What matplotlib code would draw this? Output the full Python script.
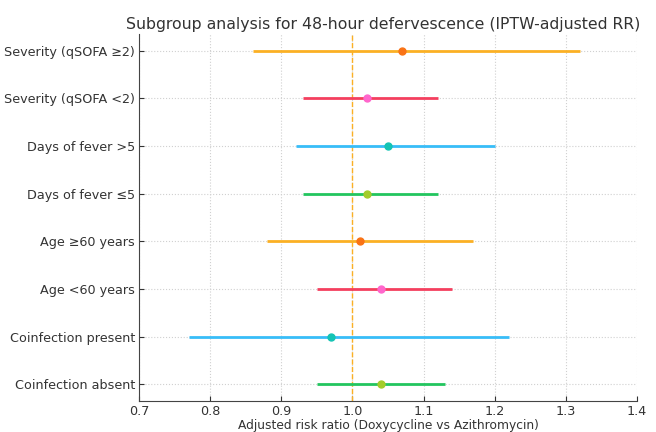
import matplotlib
matplotlib.use("Agg")
import matplotlib.pyplot as plt

labels = ["Coinfection absent", "Coinfection present", "Age <60 years", "Age ≥60 years",
          "Days of fever ≤5", "Days of fever >5", "Severity (qSOFA <2)", "Severity (qSOFA ≥2)"]
rr = [1.04, 0.97, 1.04, 1.01, 1.02, 1.05, 1.02, 1.07]
lower = [0.95, 0.77, 0.95, 0.88, 0.93, 0.92, 0.93, 0.86]
upper = [1.13, 1.22, 1.14, 1.17, 1.12, 1.20, 1.12, 1.32]
line_colors = ["#22c55e", "#38bdf8", "#f43f5e", "#fbb024"] * 2
point_colors = ["#a3cc2a", "#14c4b4", "#ff66cc", "#f97316"] * 2

fig = plt.figure(figsize=(6.56, 4.32), dpi=100)
ax = fig.add_axes([0.212, 0.072, 0.759, 0.849])
ys = list(range(len(labels)))
for y, r, lo, hi, lc, pc in zip(ys, rr, lower, upper, line_colors, point_colors):
    ax.plot([lo, hi], [y, y], color=lc, lw=2, solid_capstyle="butt", zorder=3)
    ax.plot([r], [y], "o", color=pc, ms=5, zorder=4)
ax.axvline(1.0, color="#fbb024", ls="--", lw=1, zorder=2)
ax.set_yticks(ys)
ax.set_yticklabels(labels)
ax.set_xlim(0.7, 1.4)
ax.set_ylim(-0.35, 7.35)
ax.grid(True, ls=":", color="#d0d0d0", lw=0.8)
ax.set_axisbelow(True)
for s in ["top", "right"]:
    ax.spines[s].set_visible(False)
for s in ["left", "bottom"]:
    ax.spines[s].set_color("#444444")
ax.tick_params(direction="in", colors="#333333", labelsize=9.2, pad=3)
ax.set_xlabel("Adjusted risk ratio (Doxycycline vs Azithromycin)", color="#333333", fontsize=8.8, labelpad=1)
ax.set_title("Subgroup analysis for 48-hour defervescence (IPTW-adjusted RR)", color="#333333", fontsize=11.3, pad=4, x=0.49)
fig.savefig("out.png", dpi=100)
